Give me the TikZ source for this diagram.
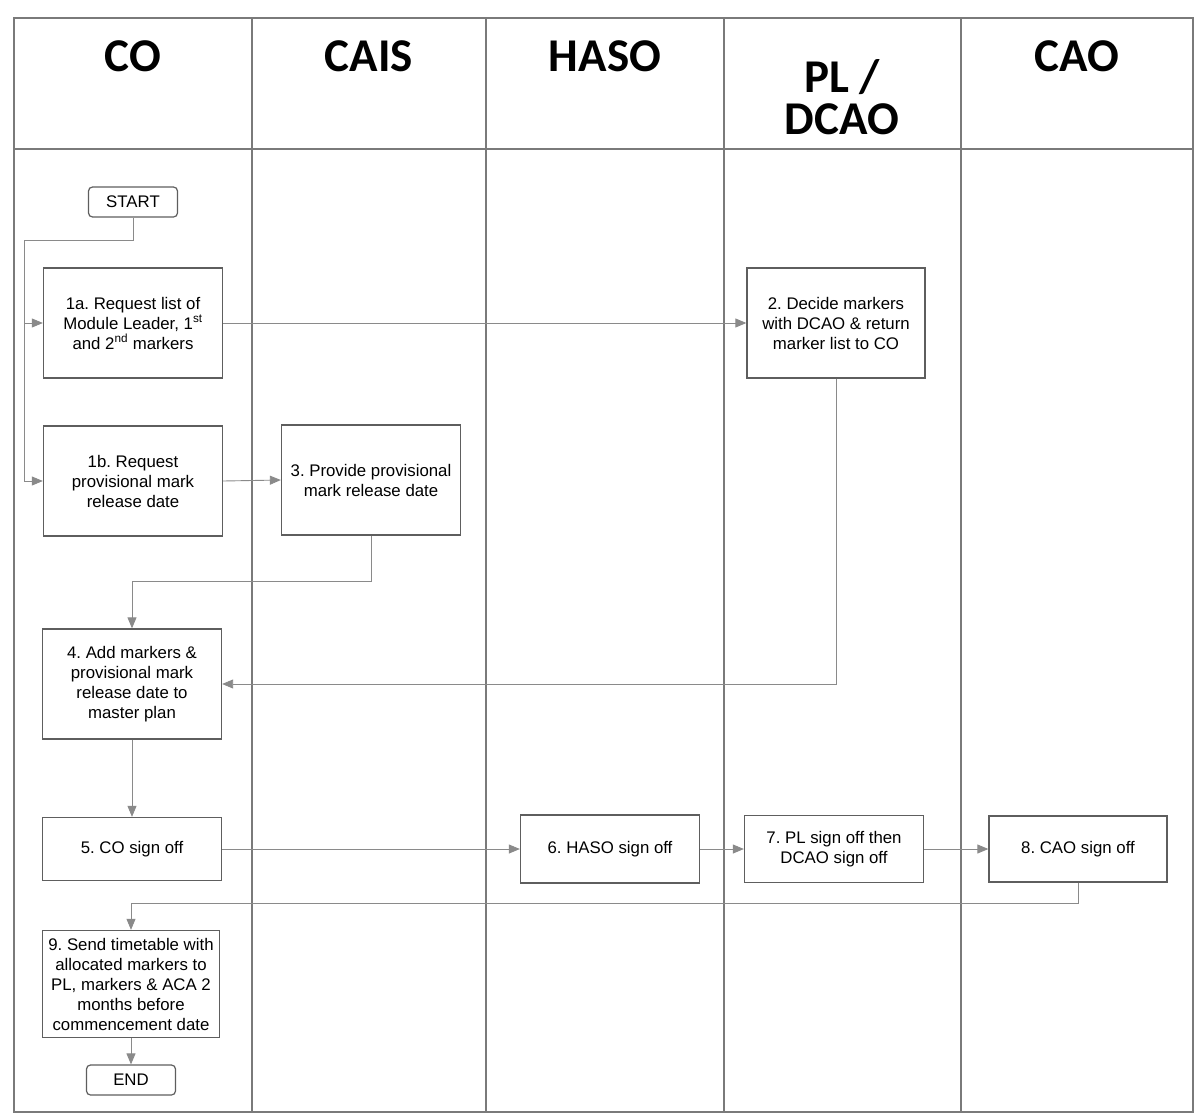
\documentclass[tikz,border=0pt]{standalone}
\usepackage{fontspec}
\setmainfont{Liberation Sans}
\newfontfamily\titlefont{Carlito}
\usetikzlibrary{arrows.meta}
\definecolor{lanegray}{HTML}{7A7A7A}
\definecolor{boxgray}{HTML}{5E5E5E}
\definecolor{conngray}{HTML}{8A8A8A}
\frenchspacing
\begin{document}
\begin{tikzpicture}[x=1pt,y=-1pt,
  lane/.style={draw=lanegray, line width=1.1pt},
  title/.style={font=\titlefont\bfseries\fontsize{47}{42}\selectfont, align=center, inner sep=0pt},
  stepbox/.style={draw=boxgray, line width=1.3pt, fill=white, align=center, inner sep=2pt,
     minimum width=179pt, minimum height=110pt, font=\fontsize{16.8}{20}\selectfont},
  term/.style={draw=boxgray, line width=1.2pt, rounded corners=4pt, fill=white, inner sep=0pt,
     minimum width=89pt, minimum height=30pt, font=\fontsize{16.8}{20}\selectfont},
  conn/.style={draw=conngray, line width=0.9pt, -{Triangle[length=11pt,width=9pt,fill=conngray]}}
]
\useasboundingbox (0,0) rectangle (1200,1119);
% swimlane frame
\draw[lane] (14,18) rectangle (1193,1112);
\draw[lane] (14,149) -- (1193,149);
\draw[lane] (252,18) -- (252,1112);
\draw[lane] (486,18) -- (486,1112);
\draw[lane] (724,18) -- (724,1112);
\draw[lane] (961,18) -- (961,1112);
% titles
\node[title] (tco) at (133,56) {CO};
\node[title] (tcais) at (369,56) {CAIS};
\node[title] (thaso) at (605,56) {HASO};
\node[title, anchor=base] (tpl) at (842,92) {PL /};
\node[title, anchor=base] (tdcao) at (842,134) {DCAO};
\node[title] (tcao) at (1077,56) {CAO};
% nodes
\node[term] (start) at (133,202) {START};
\node[stepbox] (n1a) at (133,323) {1a. Request list of\\Module Leader, 1\textsuperscript{st}\\and 2\textsuperscript{nd} markers};
\node[stepbox] (n1b) at (133,481) {1b. Request\\provisional mark\\release date};
\node[stepbox] (n3) at (371,480) {3. Provide provisional\\mark release date};
\node[stepbox, minimum width=178pt] (n2) at (836,323) {2. Decide markers\\with DCAO \& return\\marker list to CO};
\node[stepbox] (n4) at (132,684) {4. Add markers \&\\provisional mark\\release date to\\master plan};
\node[stepbox, minimum height=63pt] (n5) at (132,849) {5. CO sign off};
\node[stepbox, minimum height=68pt] (n6) at (610,849) {6. HASO sign off};
\node[stepbox, minimum height=67pt] (n7) at (834,849) {7. PL sign off then\\DCAO sign off};
\node[stepbox, minimum width=178pt, minimum height=66pt] (n8) at (1078,849) {8. CAO sign off};
\node[stepbox, minimum width=177pt, minimum height=107pt] (n9) at (131,984) {9. Send timetable with\\allocated markers to\\PL, markers \& ACA 2\\months before\\commencement date};
\node[term] (stop) at (131,1080) {END};
% connectors
\coordinate (split) at (24,240);
\coordinate (c3) at (371,581);
\coordinate (c8) at (1078,903);
\draw[conn] (start.south) |- (split) |- (n1b.west);
\draw[conn] (split |- n1a.west) -- (n1a.west);
\draw[conn] (n1a.east) -- (n2.west);
\draw[conn] (n1b.east) -- (n3.west);
\draw[conn] (n3.south) -- (c3) -| (n4.north);
\draw[conn] (n2.south) |- (n4.east);
\draw[conn] (n4.south) -- (n5.north);
\draw[conn] (n5.east) -- (n6.west);
\draw[conn] (n6.east) -- (n7.west);
\draw[conn] (n7.east) -- (n8.west);
\draw[conn] (n8.south) -- (c8) -| (n9.north);
\draw[conn] (n9.south) -- (stop.north);
\end{tikzpicture}
\end{document}
